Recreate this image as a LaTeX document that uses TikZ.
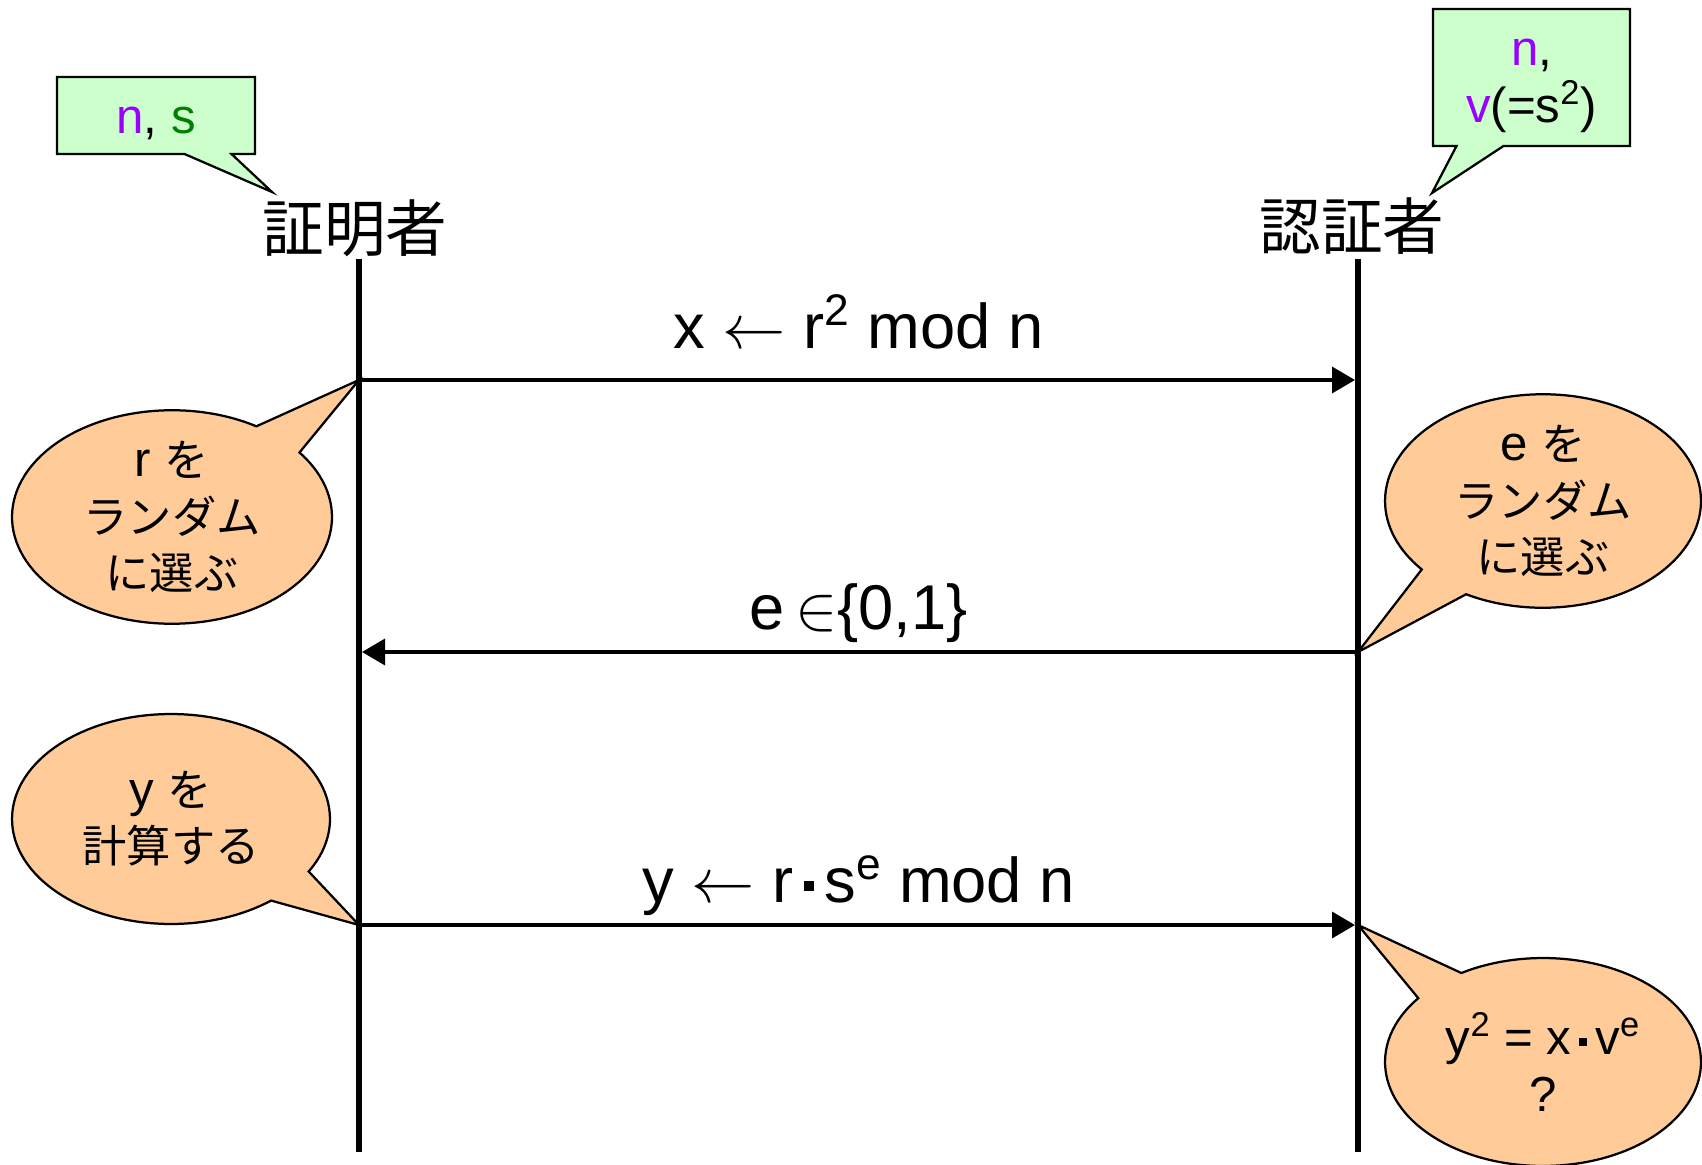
\RequirePackage{fix-cm}
\documentclass[tikz,border=0pt]{standalone}
\usepackage{fontspec}
\setmainfont{Liberation Sans}
\newfontfamily\jp{Noto Sans CJK JP}[Scale=0.9]
\usetikzlibrary{shapes.callouts,arrows.meta}
\definecolor{memo}{HTML}{CCFFCC}
\definecolor{think}{HTML}{FFCC99}
\definecolor{pub}{HTML}{9900FF}
\definecolor{sec}{HTML}{008000}
\newcommand\sqdot{\,\rule[0.18em]{0.16em}{0.16em}\,}
\newcommand\memostrut{\rule{0pt}{0.86cm}}
\tikzset{
  actor/.style={inner sep=0pt, font=\fontsize{39}{44}\selectfont\jp},
  lifeline/.style={line width=0.12cm},
  msg/.style={line width=0.07cm, -{Triangle[length=0.46cm,width=0.52cm]}, shorten >=0.06cm},
  msglabel/.style={anchor=base, inner sep=0pt, font=\fontsize{36}{40}\selectfont},
  memobox/.style={rectangle callout, draw, fill=memo, line width=0.045cm,
    align=center, inner sep=0pt, callout pointer width=0.94cm,
    font=\fontsize{28}{32.6}\selectfont},
  bubble/.style={ellipse callout, draw, fill=think, line width=0.045cm,
    align=center, inner sep=0pt, callout pointer arc=21,
    font=\fontsize{28}{32}\selectfont}
}
\begin{document}
\begin{tikzpicture}[x=0.02cm, y=-0.02cm]
    \useasboundingbox (0,0) rectangle (1702,1165);
    % Actors
    \node[actor] (prover) at (355,228) {証明者};
    \node[actor] (verifier) at (1352,226) {認証者};
    % Lifelines
    \coordinate (ptop) at (359,259);
    \coordinate (pbot) at (359,1152);
    \coordinate (vtop) at (1358,259);
    \coordinate (vbot) at (1358,1152);
    \draw[lifeline] (ptop) -- (pbot);
    \draw[lifeline] (vtop) -- (vbot);
    % Messages
    \coordinate (p1) at (359,380);
    \coordinate (v1) at (1358,380);
    \coordinate (p2) at (359,652);
    \coordinate (v2) at (1358,652);
    \coordinate (p3) at (359,925);
    \coordinate (v3) at (1358,925);
    \draw[msg] (p1) -- node[msglabel, yshift=0.64cm] {x $\leftarrow$ r\textsuperscript{2} mod n} (v1);
    \draw[msg] (v2) -- node[msglabel, yshift=0.46cm] {e\,$\in$\{0,1\}} (p2);
    \draw[msg] (p3) -- node[msglabel, yshift=0.46cm] {y $\leftarrow$ r\sqdot s\textsuperscript{e} mod n} (v3);
    % Known values
    \coordinate (ptip) at (272,192);
    \coordinate (vtip) at (1432,193);
    \node[memobox, minimum width=3.96cm, minimum height=1.54cm,
      callout absolute pointer={(ptip)}] (pmemo) at (156,115.5)
      {\memostrut{\color{pub}n}, {\color{sec}s}};
    \node[memobox, minimum width=3.94cm, minimum height=2.74cm,
      callout absolute pointer={(vtip)}] (vmemo) at (1531.5,77.5)
      {\memostrut{\color{pub}n},\\{\color{pub}v}(=s\textsuperscript{2})};
    % Thoughts
    \node[bubble, minimum width=6.4cm, minimum height=4.2cm,
      callout absolute pointer={(p1)}] (pick r) at (172,517)
      {r {\jp を}\\{\jp ランダム}\\{\jp に選ぶ}};
    \node[bubble, minimum width=6.32cm, minimum height=4.24cm,
      callout absolute pointer={(v2)}] (pick e) at (1543,501)
      {e {\jp を}\\{\jp ランダム}\\{\jp に選ぶ}};
    \node[bubble, minimum width=6.36cm, minimum height=4.2cm,
      callout absolute pointer={(p3)}] (calc y) at (171,819)
      {y {\jp を}\\{\jp 計算する}};
    \node[bubble, minimum width=6.32cm, minimum height=4.16cm,
      callout absolute pointer={(v3)}] (check) at (1543,1062)
      {y\textsuperscript{2} = x\sqdot v\textsuperscript{e}\\?};
\end{tikzpicture}
\end{document}
